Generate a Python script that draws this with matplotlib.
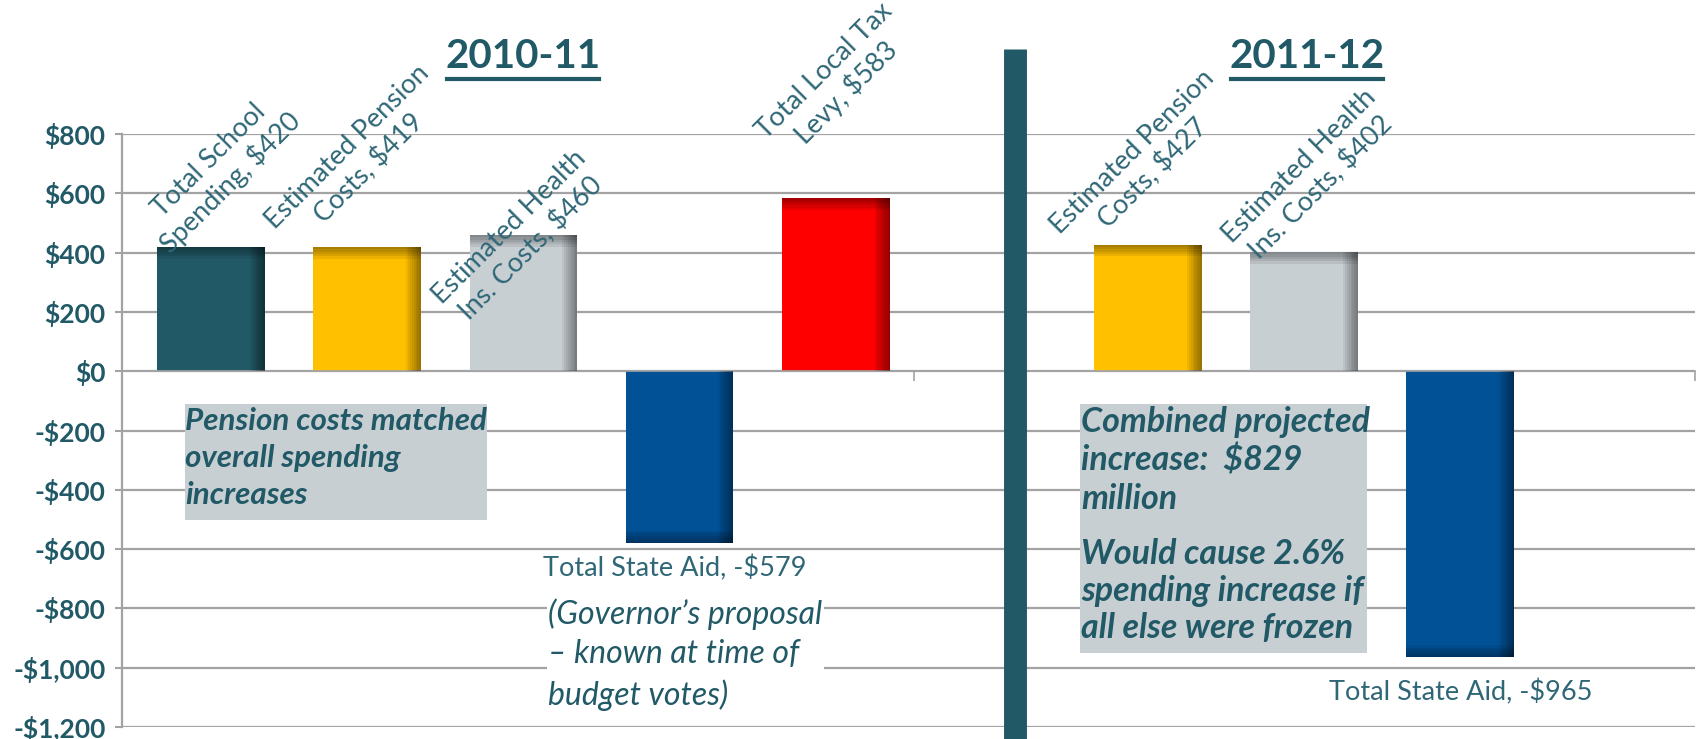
import numpy as np
import matplotlib.pyplot as plt
from matplotlib.patches import Rectangle
from matplotlib.lines import Line2D

plt.rcParams['font.family'] = ['Lato', 'DejaVu Sans']

# values in $ millions
cats_1011 = ['Total School\nSpending', 'Estimated Pension\nCosts', 'Estimated Health\nIns. Costs',
             'Total State Aid', 'Total Local Tax\nLevy']
vals_1011 = [420, 419, 460, -579, 583]
cats_1112 = ['Estimated Pension\nCosts', 'Estimated Health\nIns. Costs', 'Total State Aid']
vals_1112 = [427, 402, -965]

yticks = [800, 600, 400, 200, 0, -200, -400, -600, -800, -1000, -1200]
ytick_labels = ['$800', '$600', '$400', '$200', '$0', '-$200', '-$400', '-$600',
                '-$800', '-$1,000', '-$1,200']

teal = '#215967'
gold = '#FFC000'
grey = '#C8CFD3'
blue = '#005196'
red = '#FF0000'
cols_1011 = [teal, gold, grey, blue, red]
cols_1112 = [gold, grey, blue]

# label offsets in pixels (dx, dy) from the bar end
offs_1011 = [(9, 75), (-9, 89), (-3, -3), (-5, -25), (0, 116)]
offs_1112 = [(-5, 82), (6, 75), (0, -35)]

x_1011 = np.arange(len(vals_1011))
x_1112 = np.arange(len(vals_1112)) + 6
w = 0.69

fig = plt.figure(figsize=(16.98, 7.39), dpi=100)
ax = fig.add_axes([0.0719, 0.0162, 0.9261, 0.8025])


def fmt(v):
    return '-$%d' % -v if v < 0 else '$%d' % v


def shaded_bar(x, v, c):
    ax.bar(x, v, w, color=c, zorder=2)
    # darker right side
    for k in range(8):
        s = 0.012 * (k + 1)
        ax.bar(x + w / 2 - s / 2, v, s, color='black', alpha=0.06, lw=0, zorder=3)
    # darker end of the bar
    for k in range(5):
        h = 8 * (k + 1) * np.sign(v)
        ax.bar(x, h, w, bottom=v - h, color='black', alpha=0.08, lw=0, zorder=3)


def draw_group(xs, vals, cats, cols, offs):
    for x, v, cat, c, o in zip(xs, vals, cats, cols, offs):
        shaded_bar(x, v, c)
        rot = 45 if v > 0 else 0
        ax.annotate(cat + ', ' + fmt(v), (x, v), xytext=o, textcoords='offset pixels',
                    ha='center', va='center', rotation=rot, multialignment='center',
                    fontsize=19.5, color='#2F6777', zorder=5)


draw_group(x_1011, vals_1011, cats_1011, cols_1011, offs_1011)
draw_group(x_1112, vals_1112, cats_1112, cols_1112, offs_1112)

ax.set_xlim(-0.57, 9.5)
ax.set_ylim(-1200, 800)
ax.set_yticks(yticks)
ax.set_yticklabels(ytick_labels, fontsize=19, fontweight='bold', color=teal)
ax.set_xticks([4.5, 9.5])
ax.set_xticklabels(['', ''])
ax.grid(axis='y', color='#A3A3A3', lw=1.6)
ax.set_axisbelow(True)
for s in ['top', 'right']:
    ax.spines[s].set_visible(False)
ax.spines['bottom'].set_position(('data', 0))
ax.spines['bottom'].set_color('#A3A3A3')
ax.spines['bottom'].set_linewidth(1.2)
ax.spines['left'].set_color('#A3A3A3')
ax.spines['left'].set_linewidth(1.6)
ax.tick_params(axis='y', length=5, width=1.5, color='#A3A3A3', pad=7)
ax.tick_params(axis='x', length=7, width=1.2, color='#A3A3A3', direction='out')

# divider between the two years
ax.axvline(5.15, ymin=-0.03, ymax=1.143, lw=16.5, color=teal, clip_on=False,
           solid_capstyle='butt', zorder=6)

# note boxes
ax.add_patch(Rectangle((-0.17, -502), 1.94, 390, facecolor=grey, edgecolor='none', zorder=4))
ax.text(-0.165, -122, 'Pension costs matched\noverall spending\nincreases', ha='left', va='top',
        fontsize=22.6, fontweight='bold', fontstyle='italic', color=teal, linespacing=1.38,
        zorder=5)
ax.add_patch(Rectangle((5.567, -949), 1.838, 837, facecolor=grey, edgecolor='none', zorder=4))
ax.text(5.572, -118, 'Combined projected\nincrease:  $829\nmillion', ha='left', va='top',
        fontsize=24.5, fontweight='bold', fontstyle='italic', color=teal, linespacing=1.24,
        zorder=5)
ax.text(5.572, -562, 'Would cause 2.6%\nspending increase if\nall else were frozen', ha='left',
        va='top', fontsize=24.5, fontweight='bold', fontstyle='italic', color=teal,
        linespacing=1.2, zorder=5)
ax.text(2.16, -765, '(Governor\u2019s proposal\n\u2013 known at time of\nbudget votes)', ha='left',
        va='top', fontsize=23, fontstyle='italic', color=teal, linespacing=1.39, zorder=5,
        bbox=dict(facecolor='white', edgecolor='none', pad=1))

# year titles, underlined
for label, xc, x0, x1 in [('2010-11', 523, 447, 599), ('2011-12', 1307, 1231, 1383)]:
    fig.text(xc / 1698, 1 - 57 / 739, label, ha='center', va='center', fontsize=29,
             fontweight='bold', color=teal)
    fig.add_artist(Line2D([x0 / 1698, x1 / 1698], [1 - 79 / 739] * 2, lw=3, color=teal))

fig.savefig('out.png', dpi=100)
